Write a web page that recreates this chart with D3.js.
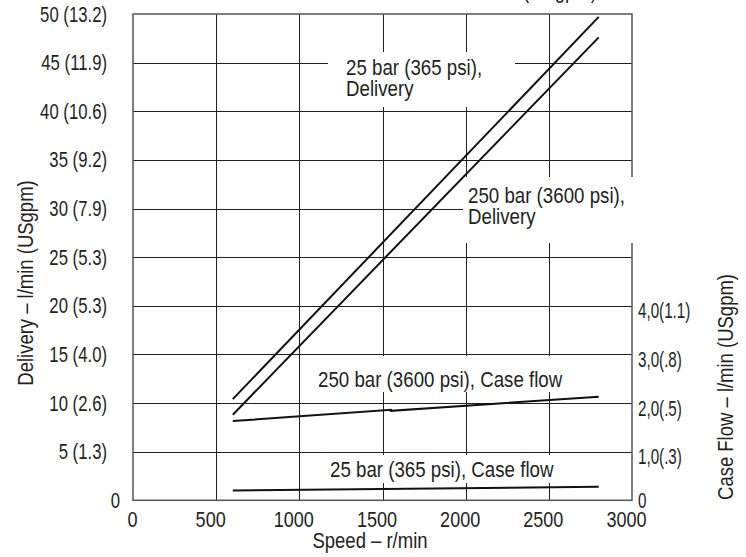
<!DOCTYPE html>
<meta http-equiv="content-type" content="text/html; charset=utf-8">
<style>
body { margin:0; background:#fff; }
text {
  font-family: 'Liberation Sans', Arial, sans-serif;
  font-size: 22px;
  fill: #231f20;
}
.grid line { stroke:#231f20; stroke-width:1; shape-rendering:crispEdges; }
.frame { fill:none; stroke:#555; stroke-width:1.5; }
.curve { fill:none; stroke:#111; stroke-width:2; }
</style>
<body>
<div id="chart"></div>
<script src="https://d3js.org/d3.v7.min.js"></script>
<script>
// speeds (r/min) and read-off values
var speedTicks = [0, 500, 1000, 1500, 2000, 2500, 3000];
var delivTicks = [0, 5, 10, 15, 20, 25, 30, 35, 40, 45, 50];
var delivLabels = ["0", "5 (1.3)", "10 (2.6)", "15 (4.0)", "20 (5.3)", "25 (5.3)",
                   "30 (7.9)", "35 (9.2)", "40 (10.6)", "45 (11.9)", "50 (13.2)"];
var caseTicks = [0, 1, 2, 3, 4];
var caseLabels = ["0", "1,0(.3)", "2,0(.5)", "3,0(.8)", "4,0(1.1)"];

var delivSpeed = [600, 2800];
var deliv25 = [10.4, 49.7];
var deliv250 = [8.8, 47.6];
var caseSpeed250 = [600, 1550, 1550, 2800];
var case250 = [1.63, 1.86, 1.84, 2.13];
var caseSpeed25 = [600, 2800];
var case25 = [0.20, 0.28];

var width = 746, height = 557;
var pLeft = 133, pRight = 632, pTop = 14, pBottom = 500.3;

var svg = d3.select("#chart").append("svg")
    .attr("width", width)
    .attr("height", height);

var x = d3.scaleLinear().domain([0, 3000]).range([pLeft, pRight]);
var y = d3.scaleLinear().domain([0, 50]).range([pBottom, pTop]);
var yc = d3.scaleLinear().domain([0, 10]).range([pBottom, pTop]);

// squeeze Liberation Sans to a condensed look
function squeeze(sel, k) {
  sel.each(function() {
    var len = this.getComputedTextLength();
    d3.select(this).attr("textLength", len * k).attr("lengthAdjust", "spacingAndGlyphs");
  });
}

// grid
var grid = svg.append("g").attr("class", "grid");
grid.selectAll(".v")
  .data(speedTicks.slice(1, -1))
  .enter().append("line")
    .attr("x1", function(d) { return Math.round(x(d)) + 0.5; })
    .attr("x2", function(d) { return Math.round(x(d)) + 0.5; })
    .attr("y1", pTop).attr("y2", pBottom);
grid.selectAll(".h")
  .data(delivTicks.slice(1, -1))
  .enter().append("line")
    .attr("x1", pLeft).attr("x2", pRight)
    .attr("y1", function(d) { return Math.round(y(d)) + 0.5; })
    .attr("y2", function(d) { return Math.round(y(d)) + 0.5; });

svg.append("rect")
    .attr("class", "frame")
    .attr("x", pLeft).attr("y", pTop)
    .attr("width", pRight - pLeft).attr("height", pBottom - pTop);

// white boxes behind the annotations break the grid
var boxes = [[328, 52, 187, 55], [463, 177, 185, 66], [305, 356, 295, 36], [305, 455, 285, 28]];
svg.selectAll(".box")
  .data(boxes)
  .enter().append("rect")
    .attr("x", function(d) { return d[0]; })
    .attr("y", function(d) { return d[1]; })
    .attr("width", function(d) { return d[2]; })
    .attr("height", function(d) { return d[3]; })
    .attr("fill", "#fff");

// curves
var line = d3.line()
    .x(function(d) { return x(d[0]); })
    .y(function(d) { return d[1]; });

function draw(sp, vals, scale) {
  svg.append("path")
    .attr("class", "curve")
    .attr("d", line(sp.map(function(s, i) { return [s, scale(vals[i])]; })));
}
draw(delivSpeed, deliv25, y);
draw(delivSpeed, deliv250, y);
draw(caseSpeed250, case250, yc);
draw(caseSpeed25, case25, yc);

// axes
var gl = svg.append("g")
    .attr("transform", "translate(" + pLeft + ",0)")
    .call(d3.axisLeft(y)
      .tickValues(delivTicks)
      .tickSize(0)
      .tickPadding(26)
      .tickFormat(function(d, i) { return delivLabels[i]; }));
gl.select(".domain").remove();
gl.selectAll("text")
    .attr("x", function(d) { return d === 0 ? -13 : -26; });

var gb = svg.append("g")
    .attr("transform", "translate(0," + pBottom + ")")
    .call(d3.axisBottom(x)
      .tickValues(speedTicks)
      .tickSize(0)
      .tickPadding(11)
      .tickFormat(function(d) { return String(d); }));
gb.select(".domain").remove();
gb.selectAll("text")
    .attr("dx", function(d) { return d === 0 ? -1 : -6; });

var gr = svg.append("g")
    .attr("transform", "translate(" + pRight + ",5)")
    .call(d3.axisRight(yc)
      .tickValues(caseTicks)
      .tickSize(0)
      .tickPadding(6)
      .tickFormat(function(d, i) { return caseLabels[i]; }));
gr.select(".domain").remove();
gr.selectAll(".tick").filter(function(d) { return d === 0; })
    .attr("transform", "translate(0," + (yc(0) - 4) + ")");

svg.selectAll(".tick text").attr("fill", "#231f20").attr("font-size", 22)
    .attr("font-family", null);
squeeze(gl.selectAll("text"), 0.76);
squeeze(gb.selectAll("text"), 0.82);
squeeze(gr.selectAll("text"), 0.69);

// axis titles
var titles = svg.append("g");
titles.append("text")
    .attr("transform", "translate(33,283) rotate(-90)")
    .attr("text-anchor", "middle")
    .text("Delivery \u2013 l/min (USgpm)");
titles.append("text")
    .attr("transform", "translate(733,387) rotate(-90)")
    .attr("text-anchor", "middle")
    .text("Case Flow \u2013 l/min (USgpm)");
titles.append("text")
    .attr("x", 370).attr("y", 548)
    .attr("text-anchor", "middle")
    .text("Speed \u2013 r/min");
// clipped title remnant at top edge
titles.append("text")
    .attr("x", 523).attr("y", -2)
    .text("(USgpm)");
squeeze(titles.selectAll("text"), 0.84);

// annotations
var notes = svg.append("g");
function note(px, py, lines) {
  lines.forEach(function(s, i) {
    notes.append("text").attr("x", px).attr("y", py + i * 21).text(s);
  });
}
note(346, 75, ["25 bar (365 psi),", "Delivery"]);
note(468, 203, ["250 bar (3600 psi),", "Delivery"]);
note(318, 387, ["250 bar (3600 psi), Case flow"]);
note(330, 477, ["25 bar (365 psi), Case flow"]);
squeeze(notes.selectAll("text"), 0.85);
</script>
</body>
</html>
